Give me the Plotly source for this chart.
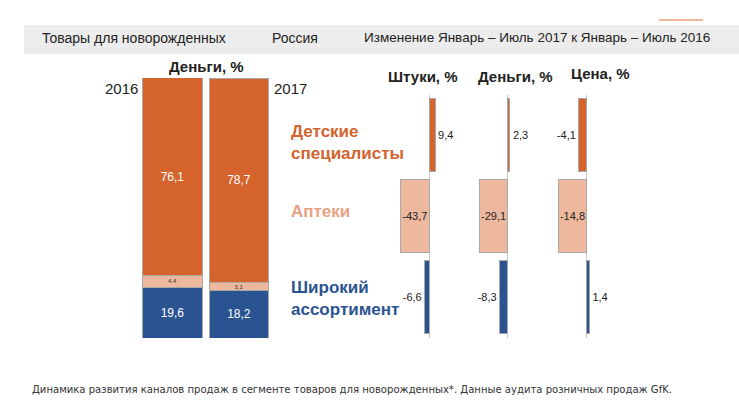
import plotly.graph_objects as go

W, H = 739, 417

years = ["2016", "2017"]
channels = ["Детские специалисты", "Аптеки", "Широкий ассортимент"]
share_spec = [76.1, 78.7]
share_pharm = [4.4, 3.1]
share_wide = [19.6, 18.2]

units_chg = [9.4, -43.7, -6.6]
money_chg = [2.3, -29.1, -8.3]
price_chg = [-4.1, -14.8, 1.4]

panel_titles = ["Штуки, %", "Деньги, %", "Цена, %"]

C_DARK = "#D4632C"
C_LIGHT = "#EDB89D"
C_BLUE = "#2A5391"
C_LBL_LIGHT = "#E8A283"
colors = [C_DARK, C_LIGHT, C_BLUE]

def fx(px):
    return px / W

def fy(py):
    return 1 - py / H

def fmt(v):
    return f"{v:.1f}".replace(".", ",")

fig = go.Figure()

# Left stacked chart
seg_data = [(share_wide, C_BLUE, "white", 12), (share_pharm, C_LIGHT, "#333333", 6), (share_spec, C_DARK, "white", 12)]
for vals, col, tcol, tsize in seg_data:
    fig.add_trace(go.Bar(
        x=years, y=vals, marker=dict(color=col, line=dict(color="#A8A8A8", width=1)),
        text=[fmt(v) for v in vals], textposition="inside", insidetextanchor="middle",
        textangle=0,
        textfont=dict(color=tcol, size=tsize, family="Liberation Sans"),
        constraintext="none", xaxis="x", yaxis="y", showlegend=False, hoverinfo="skip"))

# Right panels
panels = [units_chg, money_chg, price_chg]
for i, vals in enumerate(panels):
    n = i + 2
    pos = ["inside" if abs(v) == max(abs(u) for u in vals) else "outside" for v in vals]
    fig.add_trace(go.Bar(
        x=vals, y=channels, orientation="h",
        marker=dict(color=colors, line=dict(color="#A8A8A8", width=1)),
        text=[fmt(v) for v in vals], textposition=pos, textangle=0,
        insidetextanchor="middle",
        textfont=dict(color="#222222", size=11, family="Liberation Sans"),
        constraintext="none", cliponaxis=False,
        xaxis=f"x{n}", yaxis=f"y{n}", showlegend=False, hoverinfo="skip"))

layout = dict(
    width=W, height=H, margin=dict(l=0, r=0, t=0, b=0),
    paper_bgcolor="white", plot_bgcolor="white",
    barmode="stack", bargap=0.11,
    font=dict(family="Liberation Sans", color="#222222"),
    xaxis=dict(domain=[fx(139.25), fx(272.25)], showticklabels=False, showgrid=False,
               zeroline=False, showline=False, ticks=""),
    yaxis=dict(domain=[fy(338), fy(78)], range=[0, 100], showticklabels=False,
               showgrid=False, zeroline=False, showline=False, ticks=""),
)

# x domain/range per panel: (zero px, px per unit, range)
pdefs = [(429.0, 0.65, [-50, 15]), (507.7, 0.975, [-32, 10]), (586.7, 1.92, [-16, 6])]
for i, (z, s, r) in enumerate(pdefs):
    n = i + 2
    x0 = z + r[0] * s
    x1 = z + r[1] * s
    layout[f"xaxis{n}"] = dict(domain=[fx(x0), fx(x1)], range=r, anchor=f"y{n}",
                               showticklabels=False, showgrid=False, ticks="",
                               zeroline=True, zerolinecolor="#C8C8C8", zerolinewidth=1,
                               showline=False)
    layout[f"yaxis{n}"] = dict(domain=[fy(337.5), fy(94.5)], anchor=f"x{n}",
                               categoryorder="array", categoryarray=channels,
                               autorange="reversed", showticklabels=False,
                               showgrid=False, zeroline=False, showline=False, ticks="")
fig.update_layout(**layout)
fig.update_traces(selector=dict(orientation="h"), width=0.91)

shapes = [
    dict(type="rect", xref="paper", yref="paper", x0=fx(24), x1=1, y0=fy(54), y1=fy(25),
         fillcolor="#ECECEC", line=dict(width=0), layer="below"),
    dict(type="line", xref="paper", yref="paper", x0=fx(659), x1=fx(703), y0=fy(20), y1=fy(20),
         line=dict(color="#EE9E78", width=1.5)),
]
fig.update_layout(shapes=shapes)

ann = []
def txt(text, x, y, size, color="#222222", bold=False, xanchor="left", family="Liberation Sans", **kw):
    t = f"<b>{text}</b>" if bold else text
    ann.append(dict(text=t, x=fx(x), y=fy(y), xref="paper", yref="paper", showarrow=False,
                    xanchor=xanchor, yanchor="middle", font=dict(size=size, color=color, family=family), **kw))

txt("Товары для новорожденных", 40, 38, 14)
txt("Россия", 270, 38, 14)
txt("Изменение Январь – Июль 2017 к Январь – Июль 2016", 362, 38, 13.5)
txt("Деньги, %", 206, 66, 15, bold=True, xanchor="center")
txt("2016", 140, 88, 15, xanchor="right")
txt("2017", 272, 88, 15, xanchor="left")
txt(panel_titles[0], 423, 77, 15, bold=True, xanchor="center")
txt(panel_titles[1], 515, 77, 15, bold=True, xanchor="center")
txt(panel_titles[2], 600, 73, 15, bold=True, xanchor="center")

lbl_colors = [C_DARK, C_LBL_LIGHT, C_BLUE]
lbl_text = ["Детские<br>специалисты", "Аптеки", "Широкий<br>ассортимент"]
lbl_y = [142, 212, 298]
for t, c, y in zip(lbl_text, lbl_colors, lbl_y):
    txt(t, 289, y, 17, color=c, bold=True, align="left")

txt("Динамика развития каналов продаж в сегменте товаров для новорожденных*. Данные аудита розничных продаж GfK.",
    30, 389, 11.2, color="#333333", family="DejaVu Sans Condensed")

fig.update_layout(annotations=ann)
fig.write_html("out.html")
